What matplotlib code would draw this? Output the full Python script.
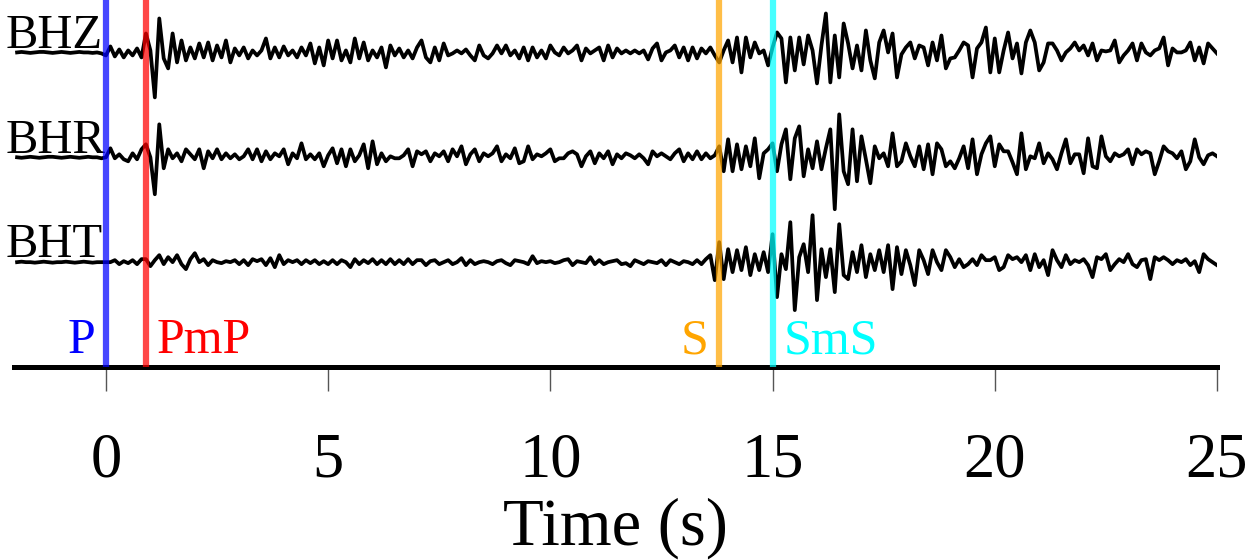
import numpy as np
import matplotlib
matplotlib.use("Agg")
import matplotlib.pyplot as plt

plt.rcParams['font.family'] = 'serif'
plt.rcParams['font.serif'] = ['Liberation Serif', 'DejaVu Serif']

# sampling of the traces (s)
t_start = -2.0
dt = 0.1

channels = ["BHZ", "BHR", "BHT"]
offsets = [3, 2, 1]

# amplitudes, t = -2.0 ... 25.0 s
bhz = [
    0, 0.5, 0, -0.5, 0, 0.5, 0.5, 0, -0.5, 0,
    0.5, 0, -0.5, 0, 0.5, 0, 0, -0.5, 0, -1,
    -3, 6, -4, 3, -5, 2, -3, 4, -5, 19,
    2, -45, 34, -6, -16, 19, -10, 12, -8, 5,
    -6, 9, -5, 10, -8, 7, -5, 12, -10, 4,
    -3, 5, -6, 2, -3, 2, 14, -6, 5, -5,
    6, -3, 2, -5, 5, -3, 9, -11, 5, -13,
    12, -6, 12, -8, 2, -10, 14, -6, 10, -8,
    2, -5, 5, -15, 7, -3, 4, -5, 2, -6,
    5, 12, -5, -10, 5, -8, 9, -3, -1, 2,
    -1, 3, -3, -8, 7, -3, -6, -1, 7, -1,
    7, -3, 2, -6, 5, -8, 5, -5, 2, -6,
    7, 0, -3, 5, -1, 2, 7, -8, 4, -1,
    2, 5, -8, 7, -5, 4, -1, 2, -1, 2,
    -1, 2, -7, 4, 9, -8, 0, 2, 7, -5,
    5, -8, 5, -6, 4, -1, 5, -3, -10, 2,
    12, -10, 15, -20, 15, -5, 10, -1, 2, -13,
    5, 20, 14, -30, 15, -18, 15, -12, 17, 2,
    -31, 7, 39, -30, 17, -25, 29, 9, -16, 7,
    -18, 22, -8, -26, 10, 22, 0, 19, -25, -2,
    5, 10, -6, 7, 5, -13, 10, -8, 17, -16,
    -6, -5, 2, 10, 7, -25, 4, 10, 25, -20,
    14, -20, 2, 20, -6, 9, -21, 10, 22, 10,
    -18, -10, 9, 9, 2, -8, 0, 4, 10, 2,
    7, -3, 9, -8, 2, 1, 2, 12, -10, -3,
    2, 9, -8, 9, 0, -3, 2, 4, 15, -13,
    4, 0, 0, 2, 10, -8, 5, -11, 9, 4,
    -1,
]
bhr = [
    0, -0.5, 0, 0.5, 0, -0.5, 0, 0.5, 0.5, 0,
    -0.5, 0, 0.5, 0, -0.5, 0, 0.5, 0, 0, -1,
    0, 9, -1, 3, -2, -4, 4, -2, 8, 13,
    0, -37, 33, -11, 8, -1, 4, -4, 8, 3,
    -2, 8, -11, 6, -1, 8, -2, 4, -1, 3,
    -2, 1, 8, -2, 8, -4, 6, -2, 4, 1,
    8, -7, 4, -1, 14, -2, 3, -2, 4, -9,
    2, 9, -6, 8, -9, 8, -4, 2, 13, -11,
    16, -7, 4, -4, 1, -1, -1, 2, 8, -9,
    6, 3, 6, -4, 4, 1, 6, -4, 8, 1,
    11, -7, 3, 8, -4, 4, 1, 4, 11, -4,
    3, -1, 9, -6, -4, 11, -2, 3, 1, 4,
    8, -4, -1, -1, 4, 6, 3, -9, 1, 6,
    -6, 4, -1, 6, -7, 3, -1, 4, 2, -1,
    3, -1, -7, 6, 1, 4, 1, -2, 4, 8,
    -4, 4, -2, 6, -2, 4, -1, 2, 11, -14,
    18, -14, 13, -12, 11, -9, 19, -21, 4, 8,
    14, -14, 13, 28, -22, 19, 31, -19, 8, -11,
    16, -12, 9, 28, -52, 43, -14, -27, 28, -24,
    21, -2, -26, 11, -1, 4, -9, 24, -9, -4,
    14, 1, -9, 11, -12, 13, -17, 14, 8, -9,
    -4, -11, -1, 11, -11, 18, -17, 3, 14, 21,
    -9, 13, 6, 6, -5, -17, 24, -12, 1, -1,
    14, -6, 4, -2, -12, 4, 18, -6, 3, 3,
    -16, 19, -9, -11, 21, 1, -4, 4, 1, 3,
    8, -7, 8, 3, 6, 4, -17, -4, 11, 6,
    4, -1, 6, -12, -4, 18, 0, -7, 2, 4,
    1,
]
bht = [
    0, 0.5, 0, 0, -0.5, 0, 0.5, 0, -0.5, 0,
    0, 0.5, 0, -0.5, 0, 0.5, 0, -0.5, 0, 0,
    0, 0, 2, -2, 1, -1, 2, -2, 3, 3,
    -4, 2, 7, -2, 5, 0, 7, -2, -7, 3,
    9, 0, 3, -3, 2, 0, -1, 1, 0, 2,
    -2, 2, -3, 3, 1, 3, -3, 4, -5, 7,
    -2, 2, 0, 2, -2, 2, -1, 2, -2, 1,
    -2, 2, -2, 2, 0, -5, 3, -2, 2, -1,
    3, -2, 2, -2, 3, -2, 2, -2, 3, -2,
    2, 2, -3, 1, 2, -2, 0, 2, -2, 0,
    4, -3, 2, -2, 0, 1, 0, -2, 1, 2,
    -1, -3, 2, 1, 0, -2, 6, -1, 1, 0,
    1, -1, 0, 2, 3, -3, 1, 0, -1, 5,
    -2, 2, -2, 0, 1, 2, -2, -1, -4, 2,
    0, -2, 1, 0, -1, 2, -3, 2, 0, -2,
    1, 0, -2, 2, -2, 3, 7, -18, 20, -17,
    13, -10, 12, -8, 15, -13, 8, -8, 10, -10,
    28, -35, 8, -7, 40, -48, 5, 18, -10, 47,
    -38, 13, -15, 13, -30, 38, -13, -17, 10, -10,
    17, -15, 8, -8, 12, -10, 17, -27, 15, -12,
    12, -3, -23, 12, 2, -12, 12, 0, -8, 12,
    5, -5, 3, -5, -2, 3, -3, 7, 2, 2,
    5, -8, -5, 7, 3, 5, 0, 7, -8, 8,
    -5, 2, -13, 12, 2, -5, 7, -2, 2, 0,
    3, -3, -15, 5, 3, 8, -8, -2, 3, 0,
    8, -2, -5, 2, 3, -17, 5, 2, 5, 2,
    -2, 2, 0, 3, -3, 1, -10, 8, 3, 0,
    -3,
]

phases = ["P", "PmP", "S", "SmS"]
phase_times = [0.0, 0.9, 13.8, 15.0]
phase_colors = ["blue", "red", "orange", "cyan"]
label_side = ["left", "right", "left", "right"]

gain = 1 / 105.0  # amplitude -> trace spacing units

fig = plt.figure(figsize=(12.46, 5.6), dpi=100)
ax = fig.add_axes([0.0112, 0.3446, 0.9655, 0.6554])

for name, off, amp in zip(channels, offsets, [bhz, bhr, bht]):
    amp = np.asarray(amp, dtype=float)
    t = t_start + dt * np.arange(len(amp))
    ax.plot(t, off + amp * gain, color='black', lw=2.7, zorder=2)
    ax.text(-2.27, off + 0.045, name, fontsize=35, ha='left', va='baseline')

for name, tp, c, side in zip(phases, phase_times, phase_colors, label_side):
    ax.axvline(tp, color=c, lw=4.5, alpha=0.72, zorder=3)
    if side == "left":
        ax.text(tp - 0.25, 0.13, name, color=c, fontsize=36, ha='right', va='baseline')
    else:
        ax.text(tp + 0.25, 0.13, name, color=c, fontsize=36, ha='left', va='baseline')

ax.set_xlim(-2.07, 25)
ax.set_ylim(0, 3.5)
for s in ['left', 'right', 'top']:
    ax.spines[s].set_visible(False)
ax.spines['bottom'].set_linewidth(3.6)
ax.set_yticks([])
ax.set_xticks([0, 5, 10, 15, 20, 25])
ax.tick_params(axis='x', direction='out', length=17, width=1, color='#555555',
               pad=30, labelsize=45)
ax.set_xlabel('Time (s)', fontsize=48, labelpad=5)

fig.savefig('out.png', dpi=100)
